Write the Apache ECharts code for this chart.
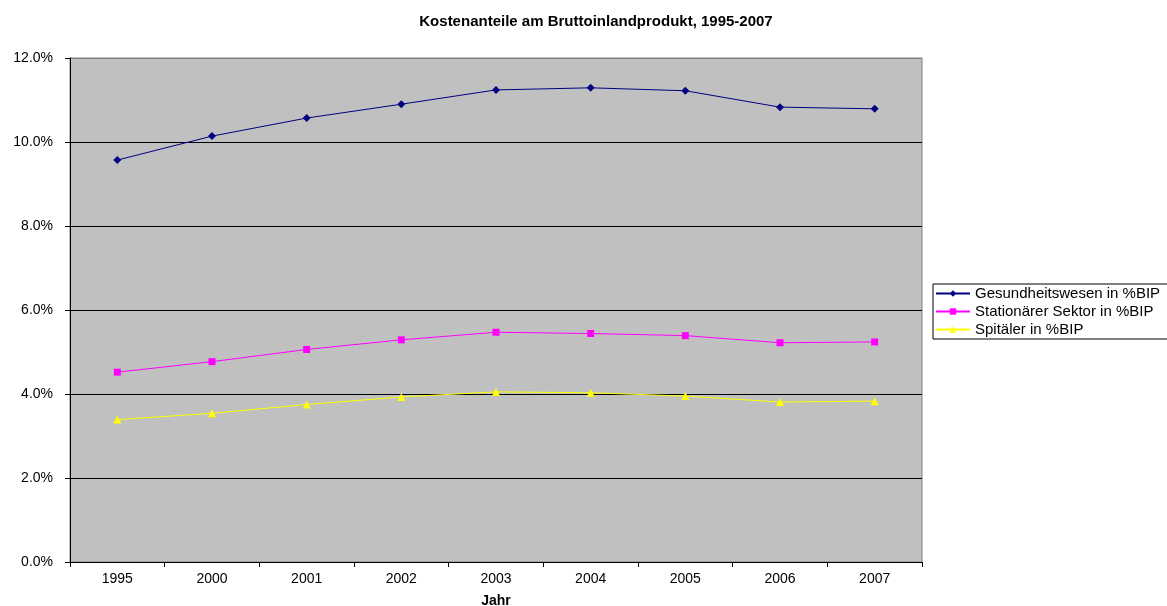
<!DOCTYPE html>
<html>
<head>
<meta charset="utf-8">
<script src="https://cdn.jsdelivr.net/npm/echarts@6/dist/echarts.min.js"></script>
<style>
  html, body { margin: 0; padding: 0; background: #fff; }
  #chart { width: 1167px; height: 606px; }
</style>
</head>
<body>
<div id="chart"></div>
<script>
// Daten
const jahre = ['1995', '2000', '2001', '2002', '2003', '2004', '2005', '2006', '2007'];
const gesundheitswesen = [9.57, 10.14, 10.57, 10.90, 11.24, 11.29, 11.22, 10.83, 10.79];
const stationaer = [4.52, 4.77, 5.06, 5.29, 5.47, 5.44, 5.39, 5.22, 5.24];
const spitaeler = [3.39, 3.54, 3.75, 3.93, 4.05, 4.03, 3.95, 3.81, 3.83];
const yTicks = [0, 2, 4, 6, 8, 10, 12];

const fontFam = '"Liberation Sans", Arial, sans-serif';
const chart = echarts.init(document.getElementById('chart'));

const mkSeries = (name, data, color, symbol, size) => ({
  name: name,
  type: 'line',
  data: data,
  symbol: symbol,
  symbolSize: size,
  showSymbol: true,
  lineStyle: { color: color, width: 1 },
  itemStyle: { color: color },
  animation: false
});

// oberste Gitterlinie grau wie der Rahmen der Zeichnungsfläche
const splitColors = yTicks.map((t, i) => i === yTicks.length - 1 ? '#808080' : '#000');

chart.setOption({
  backgroundColor: '#fff',
  title: {
    text: 'Kostenanteile am Bruttoinlandprodukt, 1995-2007',
    left: 591, top: 9, textAlign: 'center',
    textStyle: { fontFamily: fontFam, fontSize: 15, fontWeight: 'bold', color: '#000' }
  },
  legend: {
    orient: 'vertical',
    left: 933, top: 284,
    itemWidth: 34, itemHeight: 8, itemGap: 3,
    padding: [2, 10, 2, 2],
    borderColor: '#000', borderWidth: 1,
    textStyle: { fontFamily: fontFam, fontSize: 15, color: '#000' },
    data: ['Gesundheitswesen in %BIP', 'Stationärer Sektor in %BIP', 'Spitäler in %BIP']
  },
  grid: {
    left: 70, right: 245, top: 58, bottom: 44,
    containLabel: false, outerBoundsMode: 'none',
    show: true, backgroundColor: '#c0c0c0', borderColor: '#808080', borderWidth: 1
  },
  xAxis: {
    type: 'category',
    data: jahre,
    boundaryGap: true,
    name: 'Jahr', nameLocation: 'middle', nameGap: 32,
    nameTextStyle: { fontFamily: fontFam, fontSize: 14, fontWeight: 'bold', color: '#000' },
    axisLine: { lineStyle: { color: '#000', width: 1 } },
    axisTick: { show: true, inside: false, length: 5, lineStyle: { color: '#000' } },
    axisLabel: { fontFamily: fontFam, fontSize: 14, color: '#000', margin: 10 }
  },
  yAxis: {
    type: 'value',
    min: yTicks[0], max: yTicks[yTicks.length - 1], interval: 2,
    axisLine: { show: true, lineStyle: { color: '#000', width: 1 } },
    axisTick: { show: true, inside: false, length: 5, lineStyle: { color: '#000' } },
    axisLabel: {
      fontFamily: fontFam, fontSize: 14, color: '#000', margin: 17,
      formatter: v => v.toFixed(1) + '%'
    },
    splitLine: { show: true, lineStyle: { color: splitColors, width: 1 } }
  },
  series: [
    mkSeries('Gesundheitswesen in %BIP', gesundheitswesen, '#000080', 'diamond', 8),
    mkSeries('Stationärer Sektor in %BIP', stationaer, '#ff00ff', 'rect', 7),
    mkSeries('Spitäler in %BIP', spitaeler, '#ffff00', 'triangle', 8)
  ]
});
</script>
</body>
</html>
